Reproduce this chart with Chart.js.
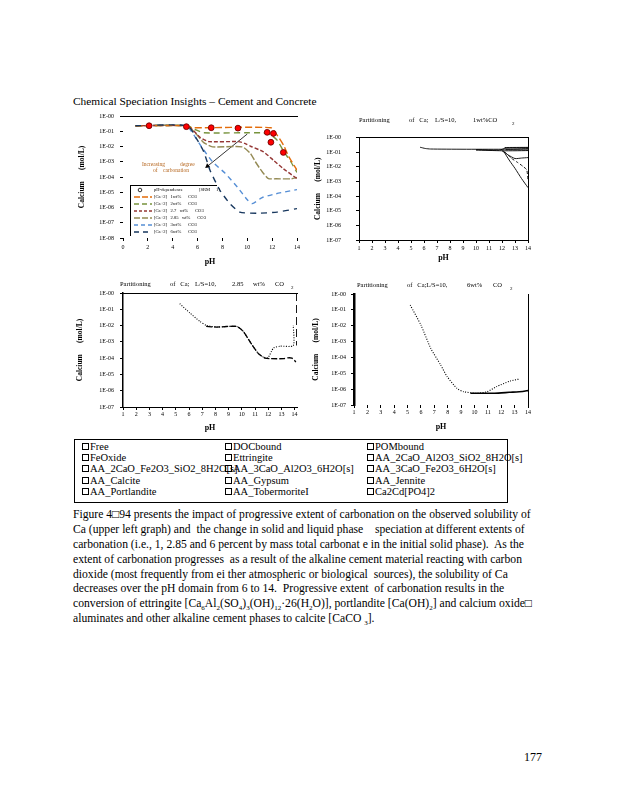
<!DOCTYPE html>
<html>
<head>
<meta charset="utf-8">
<script src="https://cdn.jsdelivr.net/npm/chart.js@4.4.1/dist/chart.umd.min.js"></script>
<style>
  body { margin: 0; width: 618px; height: 800px; background: #fff; position: relative; overflow: hidden;
         font-family: 'Liberation Serif', 'Times New Roman', serif; color: #000; }
  canvas { position: absolute; }
  .t { position: absolute; white-space: pre; line-height: 1; }
  .ptitle { position: absolute; font-size: 6.5px; white-space: pre; line-height: 1; }
  #leg { position: absolute; left: 130px; top: 185px; width: 86px; height: 50px;
         border-top: 1px solid #000; border-left: 1px solid #000; font-size: 4.6px; }
  #leg .row { position: absolute; left: 2px; height: 6px; white-space: pre; }
  #leg svg { position: absolute; left: 0; top: 0; }
  #leg span { position: absolute; top: 0; line-height: 6px; }
  #box { position: absolute; left: 74px; top: 439px; width: 432px; height: 62px; border: 1px solid #000; }
  #box div { position: absolute; font-size: 10.5px; white-space: pre; line-height: 11px; }
  #box i { display: inline-block; width: 5px; height: 5px; border: 1px solid #000; margin-right: 1px; }
  #para { position: absolute; left: 73px; top: 508px; font-size: 11.65px; }
  #para div { white-space: pre; height: 14.9px; line-height: 14.9px; }
  #para sub { font-size: 7px; line-height: 0; }
</style>
</head>
<body>

<div class="t" style="left:73px;top:96px;font-size:11.4px;">Chemical Speciation Insights – Cement and Concrete</div>

<canvas id="cTL" width="240" height="166" style="left:70px;top:106px;"></canvas>
<canvas id="cTR" width="240" height="147" style="left:310px;top:119px;"></canvas>
<canvas id="cBL" width="240" height="153" style="left:70px;top:283px;"></canvas>
<canvas id="cBR" width="240" height="150" style="left:310px;top:284px;"></canvas>

<div class="t" style="left:142px;top:162px;font-size:5.5px;color:#b5651d;">Increasing           degree</div>
<div class="t" style="left:153px;top:168px;font-size:5.5px;color:#b5651d;">of    carbonation</div>

<div id="leg"></div>

<div class="ptitle" style="left:359px;top:117px;">Partitioning</div>
<div class="ptitle" style="left:409px;top:117px;">of   Ca;</div>
<div class="ptitle" style="left:435px;top:117px;">L/S=10,</div>
<div class="ptitle" style="left:473px;top:117px;">1wt%CO</div>
<div class="ptitle" style="left:512px;top:121px;font-size:5px;">2</div>

<div class="ptitle" style="left:120px;top:281px;">Partitioning</div>
<div class="ptitle" style="left:170px;top:281px;">of   Ca;</div>
<div class="ptitle" style="left:195px;top:281px;">L/S=10,</div>
<div class="ptitle" style="left:232px;top:281px;">2.85</div>
<div class="ptitle" style="left:253px;top:281px;">wt%</div>
<div class="ptitle" style="left:275px;top:281px;">CO</div>
<div class="ptitle" style="left:291px;top:285px;font-size:5px;">2</div>

<div class="ptitle" style="left:357px;top:282px;">Partitioning</div>
<div class="ptitle" style="left:407px;top:282px;">of   Ca;L/S=10,</div>
<div class="ptitle" style="left:467px;top:282px;">6wt%</div>
<div class="ptitle" style="left:493px;top:282px;">CO</div>
<div class="ptitle" style="left:510px;top:286px;font-size:5px;">2</div>

<div id="box">
  <div style="left:7px;top:1px;"><i></i>Free</div>
  <div style="left:150px;top:1px;"><i></i>DOCbound</div>
  <div style="left:292px;top:1px;"><i></i>POMbound</div>
  <div style="left:7px;top:12px;"><i></i>FeOxide</div>
  <div style="left:150px;top:12px;"><i></i>Ettringite</div>
  <div style="left:292px;top:12px;"><i></i>AA_2CaO_Al2O3_SiO2_8H2O[s]</div>
  <div style="left:7px;top:23px;"><i></i>AA_2CaO_Fe2O3_SiO2_8H2O[s]</div>
  <div style="left:150px;top:23px;"><i></i>AA_3CaO_Al2O3_6H2O[s]</div>
  <div style="left:292px;top:23px;"><i></i>AA_3CaO_Fe2O3_6H2O[s]</div>
  <div style="left:7px;top:35px;"><i></i>AA_Calcite</div>
  <div style="left:150px;top:35px;"><i></i>AA_Gypsum</div>
  <div style="left:292px;top:35px;"><i></i>AA_Jennite</div>
  <div style="left:7px;top:46px;"><i></i>AA_Portlandite</div>
  <div style="left:150px;top:46px;"><i></i>AA_TobermoriteI</div>
  <div style="left:292px;top:46px;"><i></i>Ca2Cd[PO4]2</div>
</div>

<div id="para">
<div>Figure 4□94 presents the impact of progressive extent of carbonation on the observed solubility of</div>
<div>Ca (upper left graph) and  the change in solid and liquid phase    speciation at different extents of</div>
<div>carbonation (i.e., 1, 2.85 and 6 percent by mass total carbonat e in the initial solid phase).  As the</div>
<div>extent of carbonation progresses  as a result of the alkaline cement material reacting with carbon</div>
<div>dioxide (most frequently from ei ther atmospheric or biological  sources), the solubility of Ca</div>
<div>decreases over the pH domain from 6 to 14.  Progressive extent  of carbonation results in the</div>
<div>conversion of ettringite [Ca<sub>6</sub>Al<sub>2</sub>(SO<sub>4</sub>)<sub>3</sub>(OH)<sub>12</sub>·26(H<sub>2</sub>O)], portlandite [Ca(OH)<sub>2</sub>] and calcium oxide□</div>
<div>aluminates and other alkaline cement phases to calcite [CaCO <sub>3</sub>].</div>
</div>

<div class="t" style="left:524px;top:751px;font-size:12px;">177</div>

<script>
// log axis decades and their labels
const decades = [1e-8, 1e-7, 1e-6, 1e-5, 1e-4, 1e-3, 1e-2, 1e-1, 1];
const decadeLabels = ['1E-08', '1E-07', '1E-06', '1E-05', '1E-04', '1E-03', '1E-02', '1E-01', '1E-00'];
const phTicksTL = [0, 2, 4, 6, 8, 10, 12, 14];
const phTicks = [1, 2, 3, 4, 5, 6, 7, 8, 9, 10, 11, 12, 13, 14];

// top left: [pH, Ca mol/L]
const phDependence = [[2.1, 2.3e-1], [5.1, 2.0e-1], [7.1, 1.7e-1], [9.25, 1.6e-1], [11.6, 8.5e-2], [12.1, 7.2e-2], [11.9, 1.9e-2], [12.9, 4.1e-3]];
const ca1wt = [[1, 2.3e-1], [5.1, 2.3e-1], [5.5, 1.7e-1], [11.9, 1.7e-1], [12.4, 5.6e-2], [12.95, 1.1e-2], [13.35, 2.1e-3], [14, 2.8e-4]];
const ca2wt = [[1, 2.3e-1], [5.2, 2.3e-1], [5.8, 1.3e-1], [6.5, 7.9e-2], [11.2, 7.9e-2], [11.9, 5.6e-2], [12.4, 2.6e-2], [12.95, 4.5e-3], [13.5, 1.0e-3], [14, 2.0e-4]];
const ca27wt = [[1, 2.3e-1], [5.1, 2.3e-1], [5.6, 1.26e-1], [6.2, 4.0e-2], [6.9, 2.1e-2], [9.3, 2.1e-2], [9.8, 1.6e-2], [10.3, 1.0e-2], [11.3, 4.5e-3], [12.1, 1.26e-3], [12.9, 3.5e-4], [14, 7.9e-5]];
const ca285wt = [[1, 2.3e-1], [5.1, 2.3e-1], [5.8, 7.9e-2], [6.5, 1.8e-2], [7.2, 9.5e-3], [9.6, 9.5e-3], [10.25, 3.5e-3], [10.65, 1.0e-3], [11.2, 2.2e-4], [11.7, 7.9e-5], [12.3, 7.6e-5], [13.5, 7.6e-5], [14, 9.3e-5]];
const ca3wt = [[1, 2.3e-1], [5.1, 2.3e-1], [5.5, 1.0e-1], [6.3, 1.0e-2], [7.2, 1.0e-3], [8.2, 1.8e-4], [9.2, 2.2e-5], [10.0, 3.2e-6], [10.4, 1.8e-6], [11.2, 4.5e-6], [12.3, 7.9e-6], [14, 1.5e-5]];
const ca6wt = [[1, 2.3e-1], [5.2, 2.3e-1], [5.9, 3.4e-2], [6.5, 4.5e-3], [7.0, 2.8e-4], [7.8, 1.35e-5], [8.6, 1.8e-6], [9.4, 5.0e-7], [10.8, 4.2e-7], [12.4, 5.0e-7], [14, 8.5e-7]];
const arrowTL = [[10.0, 6.6e-2], [6.8, 5.1e-4]];

// top right, 1 wt% CO2
const tr1 = [[5.7, 2.2e-1], [6.1, 1.8e-1], [6.5, 1.66e-1], [9, 1.6e-1], [12, 1.6e-1], [13, 1.66e-1], [14, 1.78e-1]];
const tr2 = [[10, 1.5e-1], [11.8, 1.4e-1], [12.3, 1.9e-1], [14, 2.0e-1]];
const tr3 = [[10, 1.4e-1], [12, 1.26e-1], [13, 1.26e-1], [14, 1.3e-1]];
const tr4 = [[12, 1.26e-1], [12.5, 6.3e-2], [13, 3.7e-2], [13.5, 4.0e-2], [14, 4.3e-2]];
const tr5 = [[12.2, 1.1e-1], [12.7, 4.0e-2], [13.2, 2.0e-2], [13.6, 1.1e-2], [13.9, 6.3e-3], [14, 1.26e-3]];
const tr6 = [[12.1, 1.26e-1], [12.6, 2.5e-2], [13, 7.9e-3], [13.5, 1.6e-3], [14, 3.8e-4]];
const tr7 = [[12.2, 2.1e-1], [14, 2.15e-1]];
const tr8 = [[12.3, 1.5e-1], [14, 1.45e-1]];

// bottom left, 2.85 wt% CO2
const bl1 = [[5.3, 2.2e-1], [6.07, 5.9e-2], [6.83, 1.8e-2], [7.34, 1.0e-2], [8.1, 8.1e-3], [9.6, 8.9e-3], [10.1, 4.5e-3], [10.76, 6.8e-4], [11.26, 1.9e-4], [11.77, 1.0e-4], [12.0, 1.1e-4], [12.4, 4.2e-4], [12.9, 5.4e-4], [13.9, 5.9e-4], [13.9, 1.0e-2]];
const bl2 = [[7.3, 8.9e-3], [8.1, 8.1e-3], [9.6, 8.9e-3], [10.1, 4.5e-3], [10.76, 6.8e-4], [11.26, 1.9e-4], [11.77, 1.0e-4], [12.2, 9.3e-5], [13.2, 9.3e-5], [13.5, 1.05e-4], [13.8, 1.0e-4], [14.1, 5.8e-5]];
const bl3 = [[14.15, 1], [14.15, 6e-4]];

// bottom right, 6 wt% CO2
const br1 = [[5.2, 2.0e-1], [6.0, 1.1e-2], [6.73, 3.8e-4], [7.47, 3.4e-5], [7.96, 6.2e-6], [8.7, 1.1e-6], [9.2, 6.9e-7], [10.19, 5.5e-7], [10.93, 6.9e-7], [11.66, 1.45e-6], [12.64, 3.2e-6], [13.38, 4.4e-6]];
const br2 = [[9.7, 5.5e-7], [11.5, 5.5e-7], [12.6, 6.3e-7], [13.6, 7.1e-7], [14, 8.1e-7]];

const legendTL = ['[Ca+2]   1wt%      CO3', '[Ca+2]   2wt%      CO3', '[Ca+2]   2.7   wt%      CO3', '[Ca+2]   2.85   wt%      CO3', '[Ca+2]   3wt%      CO3', '[Ca+2]   6wt%      CO3'];

const cOrange = '#E46C0A', cGreen = '#77933C', cRed = '#953735', cOlive = '#948A54', cBlue = '#558ED5', cNavy = '#17375E';

Chart.defaults.font.family = "'Liberation Serif', serif";
Chart.defaults.color = '#000';

function line(data, color, dash, width) {
  return {
    data: data.map(p => ({x: p[0], y: p[1]})),
    showLine: true, borderColor: color, borderDash: dash, borderWidth: width,
    pointRadius: 0, fill: false, tension: 0.2
  };
}

function buildChart(id, datasets, o) {
  const yTicks = decades.filter(v => v >= o.yMin);
  const scales = {
    x: {
      type: 'linear', min: o.xMin, max: o.xMax,
      afterBuildTicks: s => { s.ticks = o.xTicks.map(v => ({value: v})); },
      afterFit: s => { s.height = o.xHeight; },
      grid: {display: true, drawOnChartArea: false, tickLength: 3, color: '#000'},
      border: {display: o.bottom, color: '#000'},
      ticks: {font: {size: 6}, padding: o.xPad, maxRotation: 0, autoSkip: false},
      title: {display: true, text: 'pH', font: {size: 8, weight: 'bold'}, padding: {top: 0, bottom: o.phPad}}
    },
    y: {
      type: 'logarithmic', min: o.yMin, max: 1,
      afterBuildTicks: s => { s.ticks = yTicks.map(v => ({value: v})); },
      afterFit: s => { s.width = o.yWidth; },
      grid: {display: true, drawOnChartArea: false, tickLength: 3, color: '#000'},
      border: {display: o.left, color: '#000', width: o.leftWidth || 1},
      ticks: {font: {size: 6}, padding: o.yPad, callback: v => decadeLabels[decades.indexOf(v)]},
      title: {display: true, text: 'Calcium      (mol/L)', font: {size: 7.5, weight: 'bold'}, padding: {top: o.calPad, bottom: 0}}
    }
  };
  if (o.top) {
    scales.xTop = {position: 'top', type: 'linear', min: 0, max: 1, ticks: {display: false}, grid: {display: false},
      border: {display: true, color: '#000'}, afterFit: s => { s.height = 0; }};
  }
  if (o.right) {
    scales.yRight = {position: 'right', type: 'linear', min: 0, max: 1, ticks: {display: false}, grid: {display: false},
      border: {display: true, color: '#000', width: o.rightWidth || 1}, afterFit: s => { s.width = 0; }};
  }
  return new Chart(document.getElementById(id), {
    type: 'scatter',
    data: {datasets},
    options: {
      responsive: false, animation: false,
      layout: {padding: {top: o.padTop, right: o.padRight, left: 0, bottom: 0}},
      plugins: {legend: {display: false}, tooltip: {enabled: false}},
      scales
    }
  });
}

// upper left graph
buildChart('cTL', [
  {data: phDependence.map(p => ({x: p[0], y: p[1]})), pointRadius: 2.9, backgroundColor: '#ff0000', borderColor: '#700000', borderWidth: 0.9},
  line(ca6wt, cNavy, [6, 5], 1.4),
  line(ca1wt, cOrange, [7, 3], 1.4),
  line(ca2wt, cGreen, [6, 4], 1.4),
  line(ca27wt, cRed, [4, 2], 1.4),
  line(ca285wt, cOlive, [7, 2], 1.4),
  line(ca3wt, cBlue, [5, 4], 1.4),
  Object.assign(line(arrowTL, '#000', [], 0.8), {tension: 0, pointRadius: [0, 3], pointStyle: 'triangle', rotation: [0, 231], backgroundColor: '#000', pointBorderWidth: 0})
], {xMin: 0, xMax: 14, xTicks: phTicksTL, yMin: 1e-8, yWidth: 53, xHeight: 34, padTop: 10, padRight: 13,
    xPad: 3, yPad: 6, phPad: 5, calPad: 7.5, left: false, bottom: false, top: true, right: false});

// 1 wt%
buildChart('cTR', [tr1, tr2, tr3, tr7, tr8, tr4, tr6].map(d => line(d, '#000', [], 0.9)).concat([line(tr5, '#000', [3, 2], 0.9)]),
  {xMin: 1, xMax: 14, xTicks: phTicks, yMin: 1e-7, yWidth: 49, xHeight: 26, padTop: 10, padRight: 22,
   xPad: 1.5, yPad: 15, phPad: 3, calPad: 3.5, left: true, bottom: true, top: true, right: true});

// 2.85 wt%
buildChart('cBL', [line(bl2, '#000', [6, 2], 1.3), line(bl1, '#000', [1, 1.5], 1.1), Object.assign(line(bl3, '#000', [8, 4], 1), {tension: 0})],
  {xMin: 1, xMax: 14.18, xTicks: phTicks, yMin: 1e-7, yWidth: 53, xHeight: 29, padTop: 10, padRight: 13,
   xPad: 1, yPad: 6, phPad: 3, calPad: 5.5, left: true, leftWidth: 1.5, bottom: true, top: true, right: false});

// 6 wt%
buildChart('cBR', [line(br2, '#000', [], 1.6), line(br1, '#000', [1, 1.5], 1.1)],
  {xMin: 1, xMax: 14, xTicks: phTicks, yMin: 1e-7, yWidth: 44, xHeight: 29, padTop: 10, padRight: 22,
   xPad: 0.5, yPad: 5, phPad: 2.5, calPad: 1.5, left: true, leftWidth: 2.5, bottom: false, top: false, right: true});

// legend of the upper left graph
const leg = document.getElementById('leg');
const legStyles = [[cOrange, '6,2'], [cGreen, '5,3'], [cRed, '3,2'], [cOlive, '6,2'], [cBlue, '4,3'], [cNavy, '5,4']];
let html = '<div class="row" style="top:1px;"><svg width="20" height="6"><circle cx="7" cy="3" r="1.8" fill="none" stroke="#000" stroke-width="0.8"/></svg>' +
  '<span style="left:21px;">pH-dependence              [SRM     1]</span></div>';
legendTL.forEach((t, i) => {
  html += '<div class="row" style="top:' + (8 + i * 7) + 'px;"><svg width="20" height="6"><line x1="1" y1="3" x2="19" y2="3" stroke="' +
    legStyles[i][0] + '" stroke-width="1.5" stroke-dasharray="' + legStyles[i][1] + '"/></svg><span style="left:21px;">' + t + '</span></div>';
});
leg.innerHTML = html;
</script>
</body>
</html>
